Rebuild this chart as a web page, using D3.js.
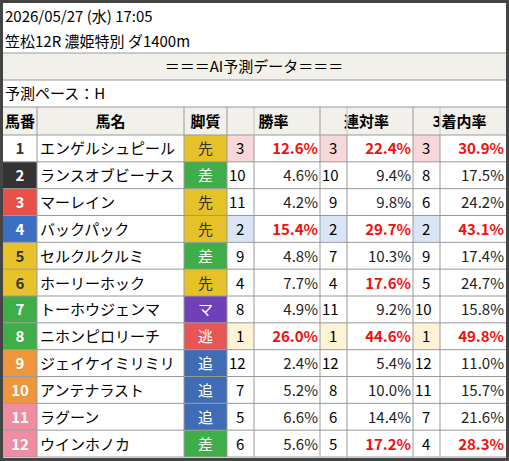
<!DOCTYPE html><html><head><meta charset="utf-8"><script src="https://cdn.jsdelivr.net/npm/d3@7"></script>
<style>body{margin:0;background:#fff}text{font-family:"Noto Sans CJK JP";}</style></head><body><svg id="c" width="509" height="461"></svg>
<script>
const title1="2026/05/27 (水) 17:05", title2="笠松12R 濃姫特別 ダ1400m", banner="＝＝＝AI予測データ＝＝＝", pace="予測ペース：H";
const headers=["馬番","馬名","脚質","勝率","連対率","3着内率"];
const nums=[1,2,3,4,5,6,7,8,9,10,11,12];
const names=["エンゲルシュピール","ランスオブビーナス","マーレイン","バックパック","セルクルクルミ","ホーリーホック","トーホウジェンマ","ニホンピロリーチ","ジェイケイミリミリ","アンテナラスト","ラグーン","ウインホノカ"];
const styles=["先","差","先","先","差","先","マ","逃","追","追","追","差"];
const winRank=[3,10,11,2,9,4,8,1,12,7,5,6];
const winPct=[12.6,4.6,4.2,15.4,4.8,7.7,4.9,26.0,2.4,5.2,6.6,5.6];
const rentaiRank=[3,10,9,2,7,4,11,1,12,8,6,5];
const rentaiPct=[22.4,9.4,9.8,29.7,10.3,17.6,9.2,44.6,5.4,10.0,14.4,17.2];
const fukuRank=[3,8,6,2,9,5,10,1,12,11,7,4];
const fukuPct=[30.9,17.5,24.2,43.1,17.4,24.7,15.8,49.8,11.0,15.7,21.6,28.3];
const frameCol=["#ffffff","#333333","#e8504a","#3a6fc4","#e8c22a","#e8c22a","#3fae49","#3fae49","#f0963a","#f0963a","#f08ca0","#f08ca0"];
const frameTxt=["#333","#fff","#fff","#fff","#333","#333","#fff","#fff","#fff","#fff","#fff","#fff"];
const styleCol={"先":"#e6c229","差":"#3fae49","逃":"#e85555","追":"#3f6cb5","マ":"#7040b8"};
const rankBg={1:"#fff3d6",2:"#d9e5f6",3:"#f8d7da"};
const thr=[10,15,25];

const svg=d3.select("#c");
const G="#999";
svg.append("rect").attr("x",1.5).attr("y",1.5).attr("width",506).attr("height",458).attr("fill","#fff").attr("stroke","#444").attr("stroke-width",3);
svg.append("text").attr("x",5).attr("y",22).attr("font-size",15).text(title1);
svg.append("text").attr("x",5).attr("y",47).attr("font-size",15).text(title2);
svg.append("rect").attr("x",3).attr("y",53).attr("width",503).attr("height",27).attr("fill","#f2f0eb");
svg.append("text").attr("x",254).attr("y",72).attr("text-anchor","middle").attr("font-size",15).text(banner);
svg.append("text").attr("x",5).attr("y",99).attr("font-size",15).text(pace);
svg.append("rect").attr("x",3).attr("y",107).attr("width",503).attr("height",28).attr("fill","#f2f0eb");
[53,80,107].forEach(y=>svg.append("line").attr("x1",3).attr("x2",506).attr("y1",y).attr("y2",y).attr("stroke",G));
const colX=[3,37,184,227,254,320,347,413,440,506];
const hdrSpan=[[0,1],[1,2],[2,3],[3,5],[5,7],[7,9]];
headers.forEach((h,i)=>{const a=colX[hdrSpan[i][0]],b=colX[hdrSpan[i][1]];
 svg.append("text").attr("x",(a+b)/2).attr("y",127).attr("text-anchor","middle").attr("font-size",15).attr("font-weight","bold").text(h);});
const y=d3.scaleBand().domain(d3.range(12)).range([135,457]);
const h=y.bandwidth();
const rows=svg.selectAll("g.r").data(d3.range(12)).join("g").attr("transform",i=>`translate(0,${y(i)})`);
const cell=(g,x0,x1,fill)=>g.append("rect").attr("x",x0).attr("y",0).attr("width",x1-x0).attr("height",h).attr("fill",fill);
rows.each(function(i){const g=d3.select(this);
 cell(g,colX[0],colX[1],frameCol[i]);
 g.append("text").attr("x",(colX[0]+colX[1])/2).attr("y",h/2+6).attr("text-anchor","middle").attr("font-size",15).attr("font-weight","bold").attr("fill",frameTxt[i]).text(nums[i]);
 g.append("text").attr("x",colX[1]+3).attr("y",h/2+6).attr("font-size",15).text(names[i]);
 cell(g,colX[2],colX[3],styleCol[styles[i]]);
 g.append("text").attr("x",(colX[2]+colX[3])/2).attr("y",h/2+6).attr("text-anchor","middle").attr("font-size",15).attr("fill",styles[i]==="先"?"#333":"#fff").text(styles[i]);
 [[winRank,winPct],[rentaiRank,rentaiPct],[fukuRank,fukuPct]].forEach(([rk,pc],k)=>{
  const a=colX[3+2*k],b=colX[4+2*k],c=colX[5+2*k];
  if(rankBg[rk[i]]) cell(g,a,b,rankBg[rk[i]]);
  g.append("text").attr("x",a+(rk[i]>=10?2:9)).attr("y",h/2+6).attr("font-size",15).text(rk[i]);
  const red=pc[i]>=thr[k];
  g.append("text").attr("x",c-2).attr("y",h/2+6).attr("text-anchor","end").attr("font-size",15).attr("font-weight",red?"bold":"normal").attr("fill",red?"#f01010":"#222").text(pc[i].toFixed(1)+"%");
 });
});
d3.range(13).forEach(i=>{const yy=i<12?y(i):457;svg.append("line").attr("x1",3).attr("x2",506).attr("y1",yy).attr("y2",yy).attr("stroke",G);});
colX.slice(1,-1).forEach(x=>svg.append("line").attr("x1",x).attr("x2",x).attr("y1",107).attr("y2",457).attr("stroke",G));
[[254,107,135],[320,107,135],[413,107,135],[440,107,135]].forEach(([x,a,b])=>{});
svg.selectAll("rect.hc").data([254,347,440]).join("rect").attr("x",d=>d-0.5).attr("y",108).attr("width",1).attr("height",26.5).attr("fill","#f2f0eb");
svg.append("rect").attr("x",1.5).attr("y",1.5).attr("width",506).attr("height",458).attr("fill","none").attr("stroke","#444").attr("stroke-width",3);
</script></body></html>
